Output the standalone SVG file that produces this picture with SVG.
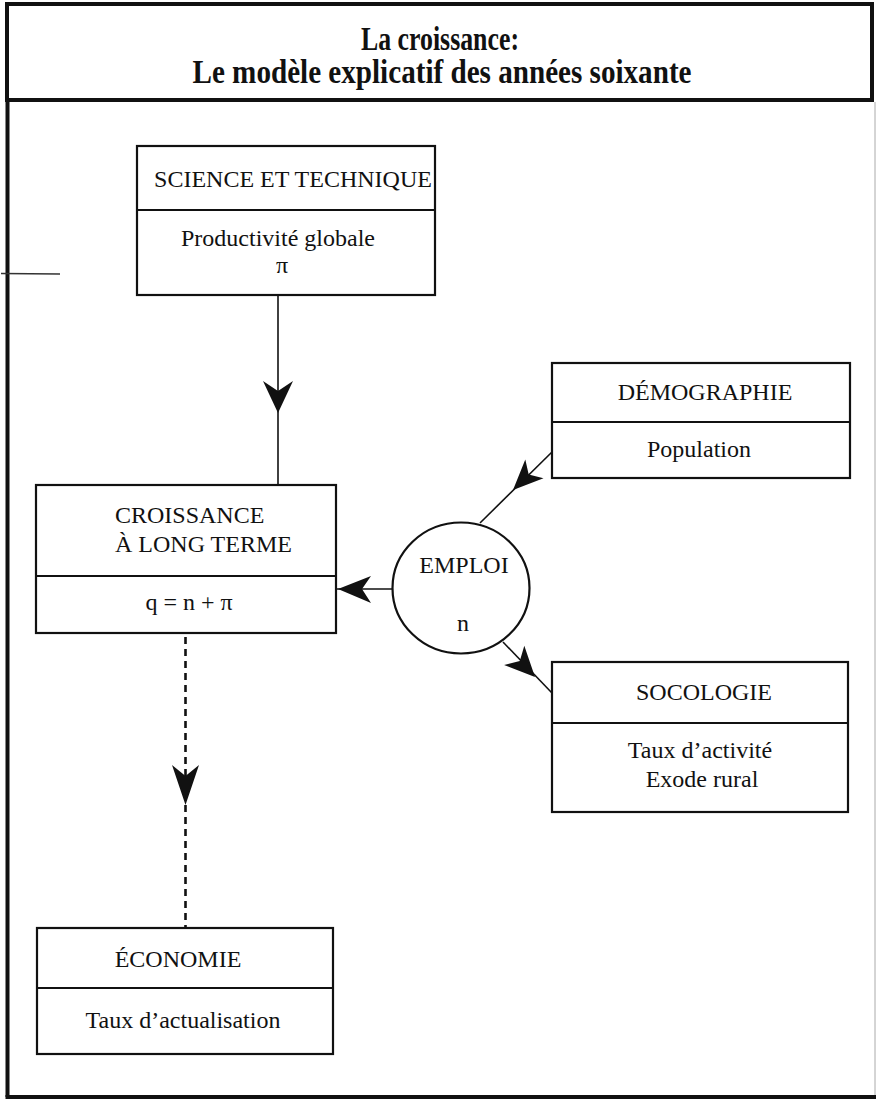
<svg xmlns="http://www.w3.org/2000/svg" width="876" height="1101" viewBox="0 0 876 1101">
<style>
.box{fill:#fff;stroke:#111;stroke-width:2.2}
.div{stroke:#111;stroke-width:2.2}
.t{font-family:"Liberation Serif","Times New Roman",serif;font-size:24px;fill:#111;text-anchor:middle}
.title{font-family:"Liberation Serif","Times New Roman",serif;font-size:33px;font-weight:bold;fill:#111;text-anchor:middle}
.ln{stroke:#111;stroke-width:1.6;fill:none}
.dash{stroke:#111;stroke-width:2.6;fill:none;stroke-dasharray:7 5}
.ah{fill:#111;stroke:none}
</style>
<rect width="876" height="1101" fill="#fff"/>
<g id="frame">
<rect x="7" y="4" width="865" height="96" fill="none" stroke="#111" stroke-width="4"/>
<line x1="7.5" y1="100" x2="7.5" y2="1097" stroke="#111" stroke-width="4"/>
<line x1="5.5" y1="1097" x2="876" y2="1097" stroke="#111" stroke-width="4"/>
<line x1="875" y1="102" x2="875" y2="1095" stroke="#aaa" stroke-width="1"/>
<line x1="1" y1="273.5" x2="60" y2="274" stroke="#333" stroke-width="1.4"/>
</g>
<g id="title">
<text class="title" x="440" y="50" textLength="158" lengthAdjust="spacingAndGlyphs">La croissance:</text>
<text class="title" x="442" y="83" textLength="499" lengthAdjust="spacingAndGlyphs">Le modèle explicatif des années soixante</text>
</g>
<g id="connectors">
<line class="ln" x1="278" y1="295" x2="278" y2="485"/>
<path class="ah" d="M278,413 L263,381 L278,391 L293,381 Z"/>
<line class="ln" x1="392" y1="589" x2="337" y2="589"/>
<path class="ah" d="M338,589 L371,576 L362,589 L371,603 Z"/>
<line class="ln" x1="552" y1="452" x2="480" y2="523"/>
<path class="ah" d="M513,490 L525.3,459.6 L528.7,474.5 L543.5,478.2 Z"/>
<line class="ln" x1="503" y1="642" x2="552" y2="693"/>
<path class="ah" d="M535,677 L524.3,645.7 L519.8,661.1 L504.1,665.1 Z"/>
<line class="dash" x1="185.5" y1="637" x2="185.5" y2="927"/>
<path class="ah" d="M185.5,805 L172,765 L185.5,776 L199,765 Z"/>
</g>
<g id="science">
<rect class="box" x="137" y="146" width="298" height="149"/>
<line class="div" x1="137" y1="210" x2="435" y2="210"/>
<text class="t" x="293" y="187">SCIENCE ET TECHNIQUE</text>
<text class="t" x="278" y="246">Productivité globale</text>
<text class="t" x="282" y="273">π</text>
</g>
<g id="croissance">
<rect class="box" x="36" y="485" width="300" height="148"/>
<line class="div" x1="36" y1="576" x2="336" y2="576"/>
<text class="t" x="115" y="523" style="text-anchor:start">CROISSANCE</text>
<text class="t" x="115" y="552" style="text-anchor:start">À LONG TERME</text>
<text class="t" x="189" y="610">q = n + π</text>
</g>
<g id="emploi">
<ellipse cx="461" cy="588" rx="68.5" ry="65.5" fill="#fff" stroke="#111" stroke-width="2.2"/>
<text class="t" x="464" y="573">EMPLOI</text>
<text class="t" x="463" y="631">n</text>
</g>
<g id="demographie">
<rect class="box" x="552" y="363" width="298" height="115"/>
<line class="div" x1="552" y1="422" x2="850" y2="422"/>
<text class="t" x="705" y="400">DÉMOGRAPHIE</text>
<text class="t" x="699" y="457">Population</text>
</g>
<g id="socologie">
<rect class="box" x="552" y="662" width="296" height="150"/>
<line class="div" x1="552" y1="723" x2="848" y2="723"/>
<text class="t" x="704" y="700">SOCOLOGIE</text>
<text class="t" x="700" y="758">Taux d’activité</text>
<text class="t" x="702" y="787">Exode rural</text>
</g>
<g id="economie">
<rect class="box" x="37" y="928" width="296" height="126"/>
<line class="div" x1="37" y1="988" x2="333" y2="988"/>
<text class="t" x="178" y="967">ÉCONOMIE</text>
<text class="t" x="183" y="1028">Taux d’actualisation</text>
</g>
</svg>
